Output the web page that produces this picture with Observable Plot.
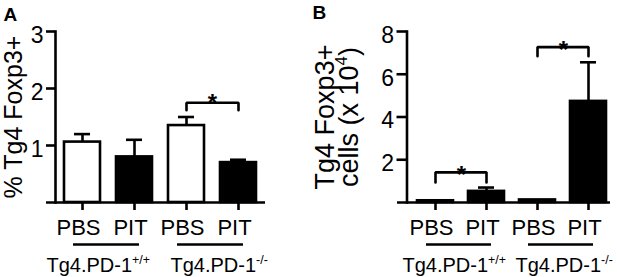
<!DOCTYPE html>
<html><head><meta charset="utf-8">
<script src="https://cdn.jsdelivr.net/npm/d3@7"></script>
<script src="https://cdn.jsdelivr.net/npm/@observablehq/plot@0.6"></script>
<style>
body{margin:0;background:#fff;}
#wrap{display:flex;width:617px;height:277px;overflow:hidden;}
#wrap svg{display:block;flex:none;}
</style></head><body><div id="wrap"></div>
<script>
// ---- data ----
const categories = ["PBS +/+", "PIT +/+", "PBS -/-", "PIT -/-"];
const treatmentLabels = ["PBS", "PIT", "PBS", "PIT"];
const barFills = ["white", "black", "white", "black"];
const groupLabels = ["Tg4.PD-1^{+/+}", "Tg4.PD-1^{-/-}"];
const groupFirst = ["PBS +/+", "PBS -/-"];
const groupLast = ["PIT +/+", "PIT -/-"];

// panel A: % Tg4 Foxp3+
const pctMean = [1.06, 0.80, 1.35, 0.70];
const pctUpper = [1.20, 1.10, 1.50, 0.75];
const pctTicks = [1, 2, 3];
const pctSigFrom = ["PBS -/-"];
const pctSigTo = ["PIT -/-"];
const pctSigTop = [1.75];
const pctSigFoot = [1.62];

// panel B: Tg4 Foxp3+ cells (x 10^4)
const cellsMean = [0.08, 0.52, 0.12, 4.73];
const cellsUpper = [0.08, 0.70, 0.12, 6.56];
const cellsTicks = [2, 4, 6, 8];
const cellsSigFrom = ["PBS +/+", "PBS -/-"];
const cellsSigTo = ["PIT +/+", "PIT -/-"];
const cellsSigTop = [1.41, 7.27];
const cellsSigFoot = [0.94, 6.84];

const FONT = "'Liberation Sans', Arial, Helvetica, sans-serif";
const SW = 2.6;

function makePanel(cfg) {
  const rows = categories.map((c, i) => ({cat: c, mean: cfg.means[i], upper: cfg.uppers[i], fill: barFills[i]}));
  const withErr = rows.filter(d => d.upper > d.mean);
  const groups = groupLabels.map((g, i) => ({label: g, first: groupFirst[i], last: groupLast[i]}));
  const brackets = cfg.sigFrom.map((f, i) => ({from: f, to: cfg.sigTo[i], top: cfg.sigTop[i], foot: cfg.sigFoot[i]}));
  const bracketPts = brackets.flatMap((b, i) => [
    {id: i, x: b.from, y: b.foot}, {id: i, x: b.from, y: b.top},
    {id: i, x: b.to, y: b.top}, {id: i, x: b.to, y: b.foot}
  ]);
  const tf = d => treatmentLabels[categories.indexOf(d)];
  return Plot.plot({
    width: cfg.width, height: 277,
    marginLeft: cfg.ml, marginRight: cfg.mr, marginTop: 31, marginBottom: 75,
    style: {fontFamily: FONT, background: "white", color: "black", overflow: "visible"},
    x: {type: "band", domain: categories, paddingInner: cfg.pi, paddingOuter: cfg.po, align: cfg.align, label: null},
    y: {domain: [0, cfg.yMax], label: null},
    color: {type: "identity"},
    marks: [
      Plot.ruleX(withErr, {x: "cat", y1: "mean", y2: "upper", strokeWidth: SW}),
      Plot.tickY(withErr, {x: "cat", y: "upper", insetLeft: 10, insetRight: 10, strokeWidth: SW}),
      Plot.barY(rows, {x: "cat", y: "mean", fill: "fill", stroke: "black", strokeWidth: SW}),
      Plot.ruleY([0], {strokeWidth: SW}),
      Plot.frame({anchor: "left", dx: cfg.axisDx, strokeWidth: SW}),
      Plot.axisY(cfg.ticks, {fill: "none", tickSize: cfg.ts, dx: cfg.axisDx, strokeWidth: SW, label: null}),
      Plot.axisY(cfg.ticks, {tickSize: 0, tickPadding: cfg.ts + 3, dx: cfg.axisDx, dy: 4, fontSize: 23, tickFormat: d3.format("d"), label: null}),
      Plot.axisX({fill: "none", tickSize: 8, strokeWidth: SW, label: null}),
      Plot.axisX({tickSize: 0, tickPadding: 17, dx: -4, fontSize: 22, tickFormat: tf, label: null}),
      Plot.line(bracketPts, {x: "x", y: "y", z: "id", strokeWidth: SW, strokeLinejoin: "miter"}),
      Plot.text(brackets, {x: "from", y: "top", text: () => "*", dx: 26, dy: cfg.starDy, fontSize: 24, fontWeight: "bold"}),
      Plot.ruleY(groups, {x1: "first", x2: "last", y: () => 0, dy: 42, insetLeft: 9, insetRight: 13, strokeWidth: SW}),
      ...groups.map((g, i) => Plot.text([g], {x: "first", text: "label", frameAnchor: "bottom", textAnchor: "start", lineAnchor: "middle", dx: cfg.groupDx[i], dy: 63.5, fontSize: 20})),
      ...cfg.yLabels.map((t, i) => Plot.text([t], {text: d => d, frameAnchor: "left", rotate: -90, textAnchor: "middle", lineAnchor: "middle", dx: cfg.yLabelDx[i], fontSize: cfg.yLabelSize})),
      Plot.text([cfg.letter], {text: d => d, frameAnchor: "top-left", textAnchor: "start", lineAnchor: "middle", dx: cfg.letterDx, dy: cfg.letterDy, fontSize: 19, fontWeight: "bold"})
    ]
  });
}

function supify(el) {
  const s = el.textContent;
  if (!s.includes("^{")) return;
  const fs = parseFloat(getComputedStyle(el).fontSize) || 20;
  const ns = "http://www.w3.org/2000/svg";
  const re = /\^\{([^}]*)\}/g;
  el.textContent = "";
  let last = 0, m, shift = 0;
  const add = (txt, attrs) => {
    const t = document.createElementNS(ns, "tspan");
    for (const k in attrs) t.setAttribute(k, attrs[k]);
    t.textContent = txt;
    el.appendChild(t);
  };
  while ((m = re.exec(s))) {
    if (m.index > last) { add(s.slice(last, m.index), shift ? {dy: shift} : {}); shift = 0; }
    add(m[1], {dy: -fs * 0.4, "font-size": fs * 0.62});
    shift = fs * 0.4;
    last = re.lastIndex;
  }
  if (last < s.length) add(s.slice(last), shift ? {dy: shift} : {});
}

const wrap = document.getElementById("wrap");
const A = makePanel({
  width: 310, ml: 46, mr: 45, pi: 0.31, po: 0.249, align: 0.654,
  means: pctMean, uppers: pctUpper, yMax: 3, ticks: pctTicks, ts: 9, axisDx: 9,
  sigFrom: pctSigFrom, sigTo: pctSigTo, sigTop: pctSigTop, sigFoot: pctSigFoot, starDy: 1,
  groupDx: [-36, -16], yLabels: ["% Tg4 Foxp3+"], yLabelDx: [-32.5], yLabelSize: 25,
  letter: "A", letterDx: -43, letterDy: -17
});
const B = makePanel({
  width: 307, ml: 87, mr: 7, pi: 0.294, po: 0.197, align: 0.83,
  means: cellsMean, uppers: cellsUpper, yMax: 8, ticks: cellsTicks, ts: 10, axisDx: 9.5,
  sigFrom: cellsSigFrom, sigTo: cellsSigTo, sigTop: cellsSigTop, sigFoot: cellsSigFoot, starDy: 3,
  groupDx: [-33, -22], yLabels: ["Tg4 Foxp3+", "cells (x 10^{4})"], yLabelDx: [-72.5, -48.5], yLabelSize: 27,
  letter: "B", letterDx: -85, letterDy: -19
});
wrap.appendChild(A);
wrap.appendChild(B);
for (const svg of [A, B]) svg.querySelectorAll("text").forEach(supify);
</script></body></html>
